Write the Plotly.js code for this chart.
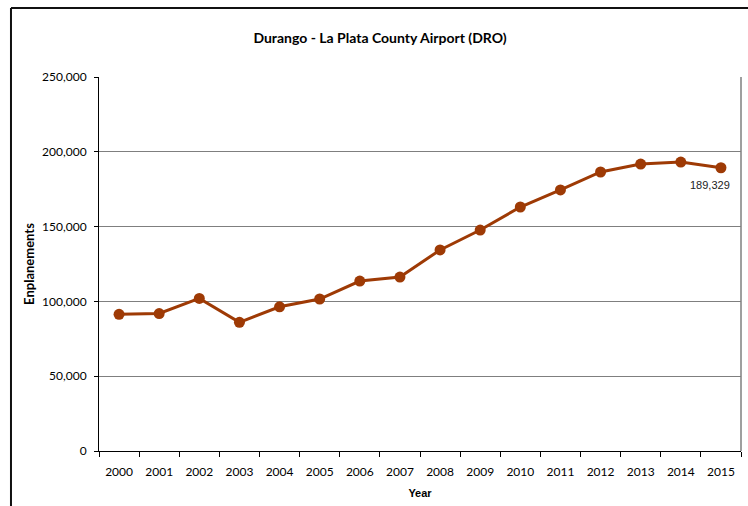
<!DOCTYPE html>
<html>
<head>
<meta charset="utf-8">
<script src="https://cdn.plot.ly/plotly-3.0.1.min.js"></script>
<style>
html,body{margin:0;padding:0;background:#fff;}
#chart{width:748px;height:506px;}
</style>
</head>
<body>
<div id="chart"></div>
<script>
const years = ["2000","2001","2002","2003","2004","2005","2006","2007","2008","2009","2010","2011","2012","2013","2014","2015"];
const enplanements = [91400, 91900, 102000, 86000, 96400, 101600, 113600, 116300, 134400, 147700, 163100, 174500, 186500, 191800, 193100, 189329];
const yTickVals = [0, 50000, 100000, 150000, 200000, 250000];
const lastLabel = "189,329";

const lineColor = "#9E3A05";

const trace = {
  x: years,
  y: enplanements,
  type: "scatter",
  mode: "lines+markers",
  line: {color: lineColor, width: 3},
  marker: {color: lineColor, size: 11},
  hoverinfo: "skip",
  cliponaxis: false
};

const lastIdx = years.length - 1;

const layout = {
  width: 748,
  height: 506,
  margin: {l: 99, r: 7, t: 77, b: 55},
  paper_bgcolor: "#fff",
  plot_bgcolor: "#fff",
  showlegend: false,
  title: {
    text: "<b>Durango - La Plata County Airport (DRO)</b>",
    font: {family: "Lato, sans-serif", size: 14, color: "#000"},
    x: 0.508, xanchor: "center", xref: "container",
    y: 33, yref: "container", yanchor: "middle"
  },
  xaxis: {
    type: "category",
    range: [-0.5, 15.5],
    tickson: "boundaries",
    ticks: "outside",
    ticklen: 5,
    tickcolor: "#000",
    tickwidth: 1,
    showline: true,
    linecolor: "#000",
    linewidth: 1,
    showgrid: false,
    zeroline: false,
    tickfont: {family: "Lato, sans-serif", size: 12, color: "#000"},
    ticklabelstandoff: 10,
    title: {text: "<b>Year</b>", font: {family: "Liberation Sans, Arial, sans-serif", size: 11, color: "#000"}, standoff: 10}
  },
  yaxis: {
    range: [0, 250000],
    tickvals: yTickVals,
    tickformat: ",d",
    ticks: "outside",
    ticklen: 4,
    tickcolor: "#000",
    showline: true,
    linecolor: "#000",
    linewidth: 1,
    showgrid: true,
    gridcolor: "#7f7f7f",
    gridwidth: 1,
    zeroline: false,
    tickfont: {family: "Lato, sans-serif", size: 12, color: "#000"},
    ticklabelstandoff: 5,
    title: {text: "<b>Enplanements</b>", font: {family: "Lato, sans-serif", size: 13, color: "#000"}, standoff: 4}
  },
  annotations: [{
    x: lastIdx,
    y: enplanements[lastIdx],
    xref: "x", yref: "y",
    text: lastLabel,
    showarrow: false,
    xanchor: "center",
    yanchor: "top",
    xshift: -11,
    yshift: -9,
    font: {family: "Liberation Sans, Arial, sans-serif", size: 11, color: "#222"}
  }],
  shapes: [
    {type: "line", xref: "paper", yref: "paper", x0: 1, x1: 1, y0: 0, y1: 1, line: {color: "#7f7f7f", width: 1.5}},
    {type: "line", xref: "paper", yref: "paper", x0: -0.1371, x1: -0.1371, y0: 1.1845, y1: -0.2, line: {color: "#111", width: 2}},
    {type: "line", xref: "paper", yref: "paper", x0: -0.1371, x1: 1.05, y0: 1.1845, y1: 1.1845, line: {color: "#111", width: 2}}
  ]
};

Plotly.newPlot("chart", [trace], layout, {displayModeBar: false, staticPlot: true});
</script>
</body>
</html>
